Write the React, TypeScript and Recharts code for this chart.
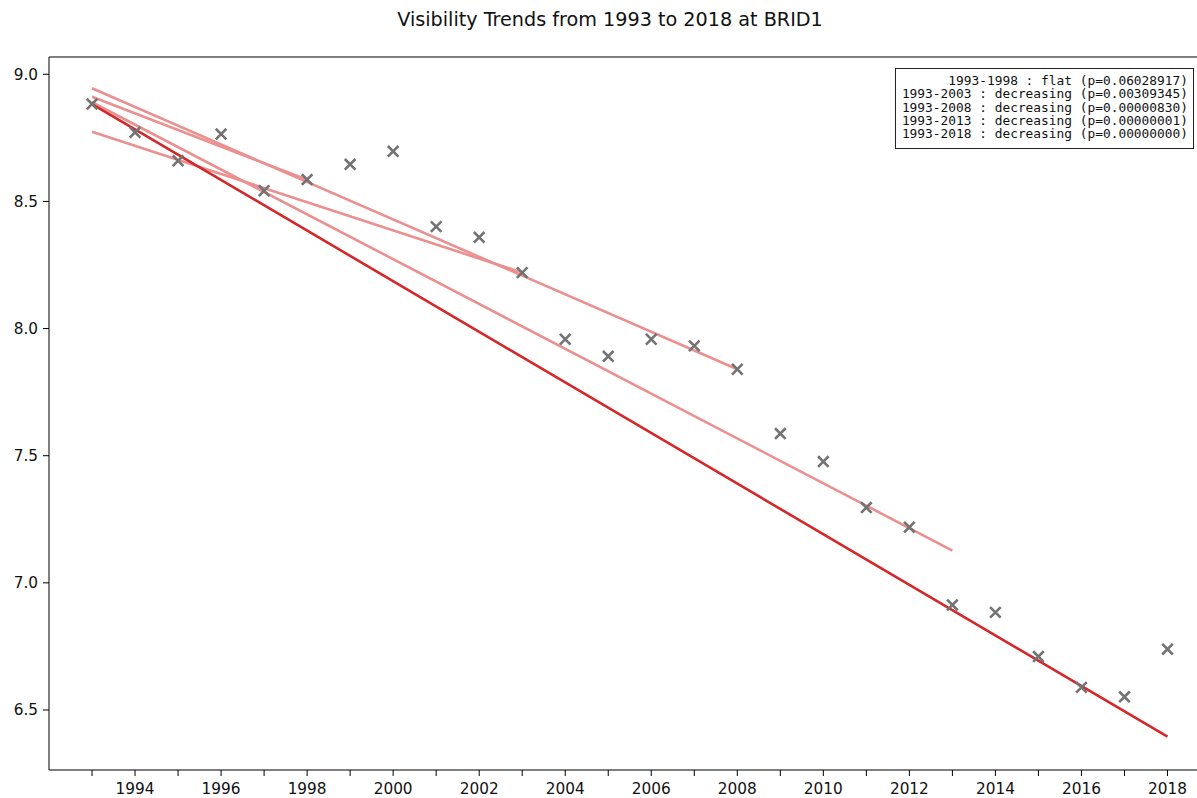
import { ComposedChart, Scatter, Line, XAxis, YAxis, ReferenceLine } from 'recharts';

// yearly mean visibility at BRID1
const YEARS = [
  1993, 1994, 1995, 1996, 1997, 1998, 1999, 2000, 2001, 2002, 2003, 2004, 2005,
  2006, 2007, 2008, 2009, 2010, 2011, 2012, 2013, 2014, 2015, 2016, 2017, 2018,
];
const VISIBILITY = [
  8.883, 8.772, 8.66, 8.765, 8.542, 8.586, 8.646, 8.697, 8.401, 8.359, 8.22, 7.958, 7.891,
  7.958, 7.932, 7.84, 7.587, 7.477, 7.296, 7.219, 6.913, 6.884, 6.71, 6.589, 6.552, 6.739,
];

// trend lines: period start/end years and fitted values at both ends
const TREND_START = [1993, 1993, 1993, 1993, 1993];
const TREND_END = [1998, 2003, 2008, 2013, 2018];
const TREND_FROM = [8.912, 8.774, 8.945, 8.89, 8.883];
const TREND_TO = [8.585, 8.22, 7.84, 7.127, 6.395];

const LEGEND_LINES = [
  '1993-1998 : flat (p=0.06028917)',
  '1993-2003 : decreasing (p=0.00309345)',
  '1993-2008 : decreasing (p=0.00000830)',
  '1993-2013 : decreasing (p=0.00000001)',
  '1993-2018 : decreasing (p=0.00000000)',
];

const Y_TICKS = [6.5, 7.0, 7.5, 8.0, 8.5, 9.0];
const Y_MIN = 6.264;
const Y_MAX = 9.068;

const points = YEARS.map((x, i) => ({ x, y: VISIBILITY[i] }));
const trends = TREND_START.map((s, i) => [
  { x: s, y: TREND_FROM[i] },
  { x: TREND_END[i], y: TREND_TO[i] },
]);

const Cross = (props: any) => {
  const { cx, cy } = props;
  const r = 5.3;
  return (
    <path
      d={`M${cx - r},${cy - r}L${cx + r},${cy + r}M${cx - r},${cy + r}L${cx + r},${cy - r}`}
      stroke="#737373"
      strokeWidth={2.6}
      fill="none"
    />
  );
};

const tickStyle = { fontFamily: 'DejaVu Sans', fontSize: 15.3, fill: '#111' };

export default function App() {
  return (
    <div style={{ position: 'absolute', left: 0, top: 0, width: 1197, height: 798, background: '#fff' }}>
      <div
        style={{
          position: 'absolute',
          left: 0,
          width: 1220,
          top: 8,
          textAlign: 'center',
          fontFamily: 'DejaVu Sans',
          fontSize: 19.2,
          color: '#111',
        }}
      >
        Visibility Trends from 1993 to 2018 at BRID1
      </div>
      <ComposedChart width={1197} height={798} margin={{ top: 57, right: 0, bottom: 0, left: 0 }}>
        <XAxis
          dataKey="x"
          type="number"
          domain={[1992, 2018.686]}
          ticks={YEARS}
          interval={0}
          allowDataOverflow
          height={28}
          tickSize={6}
          tickMargin={7}
          tickFormatter={(v: number) => (v % 2 === 0 ? String(v) : '')}
          tick={tickStyle}
          axisLine={{ stroke: '#000' }}
          tickLine={{ stroke: '#000' }}
        />
        <YAxis
          dataKey="y"
          type="number"
          domain={[Y_MIN, Y_MAX]}
          ticks={Y_TICKS}
          allowDataOverflow
          width={49}
          tickSize={6}
          tickMargin={5}
          tickFormatter={(v: number) => v.toFixed(1)}
          tick={tickStyle}
          axisLine={{ stroke: '#000' }}
          tickLine={{ stroke: '#000' }}
        />
        <ReferenceLine y={Y_MAX} stroke="#000" />
        <Scatter data={points} shape={Cross} isAnimationActive={false} />
        {trends.map((d, i) => (
          <Line
            key={i}
            data={d}
            dataKey="y"
            stroke={i === trends.length - 1 ? '#d62728' : '#eb8f8f'}
            strokeWidth={2.6}
            dot={false}
            activeDot={false}
            isAnimationActive={false}
          />
        ))}
      </ComposedChart>
      <div
        style={{
          position: 'absolute',
          left: 895,
          top: 68,
          width: 299,
          height: 81,
          border: '1.3px solid #222',
          boxSizing: 'border-box',
          padding: '5px 5px 0 0',
          fontFamily: 'DejaVu Sans Mono',
          fontSize: 12.85,
          lineHeight: '13.3px',
          textAlign: 'right',
          whiteSpace: 'pre',
          color: '#111',
          background: '#fff',
        }}
      >
        {LEGEND_LINES.map((t) => (
          <div key={t}>{t}</div>
        ))}
      </div>
    </div>
  );
}
